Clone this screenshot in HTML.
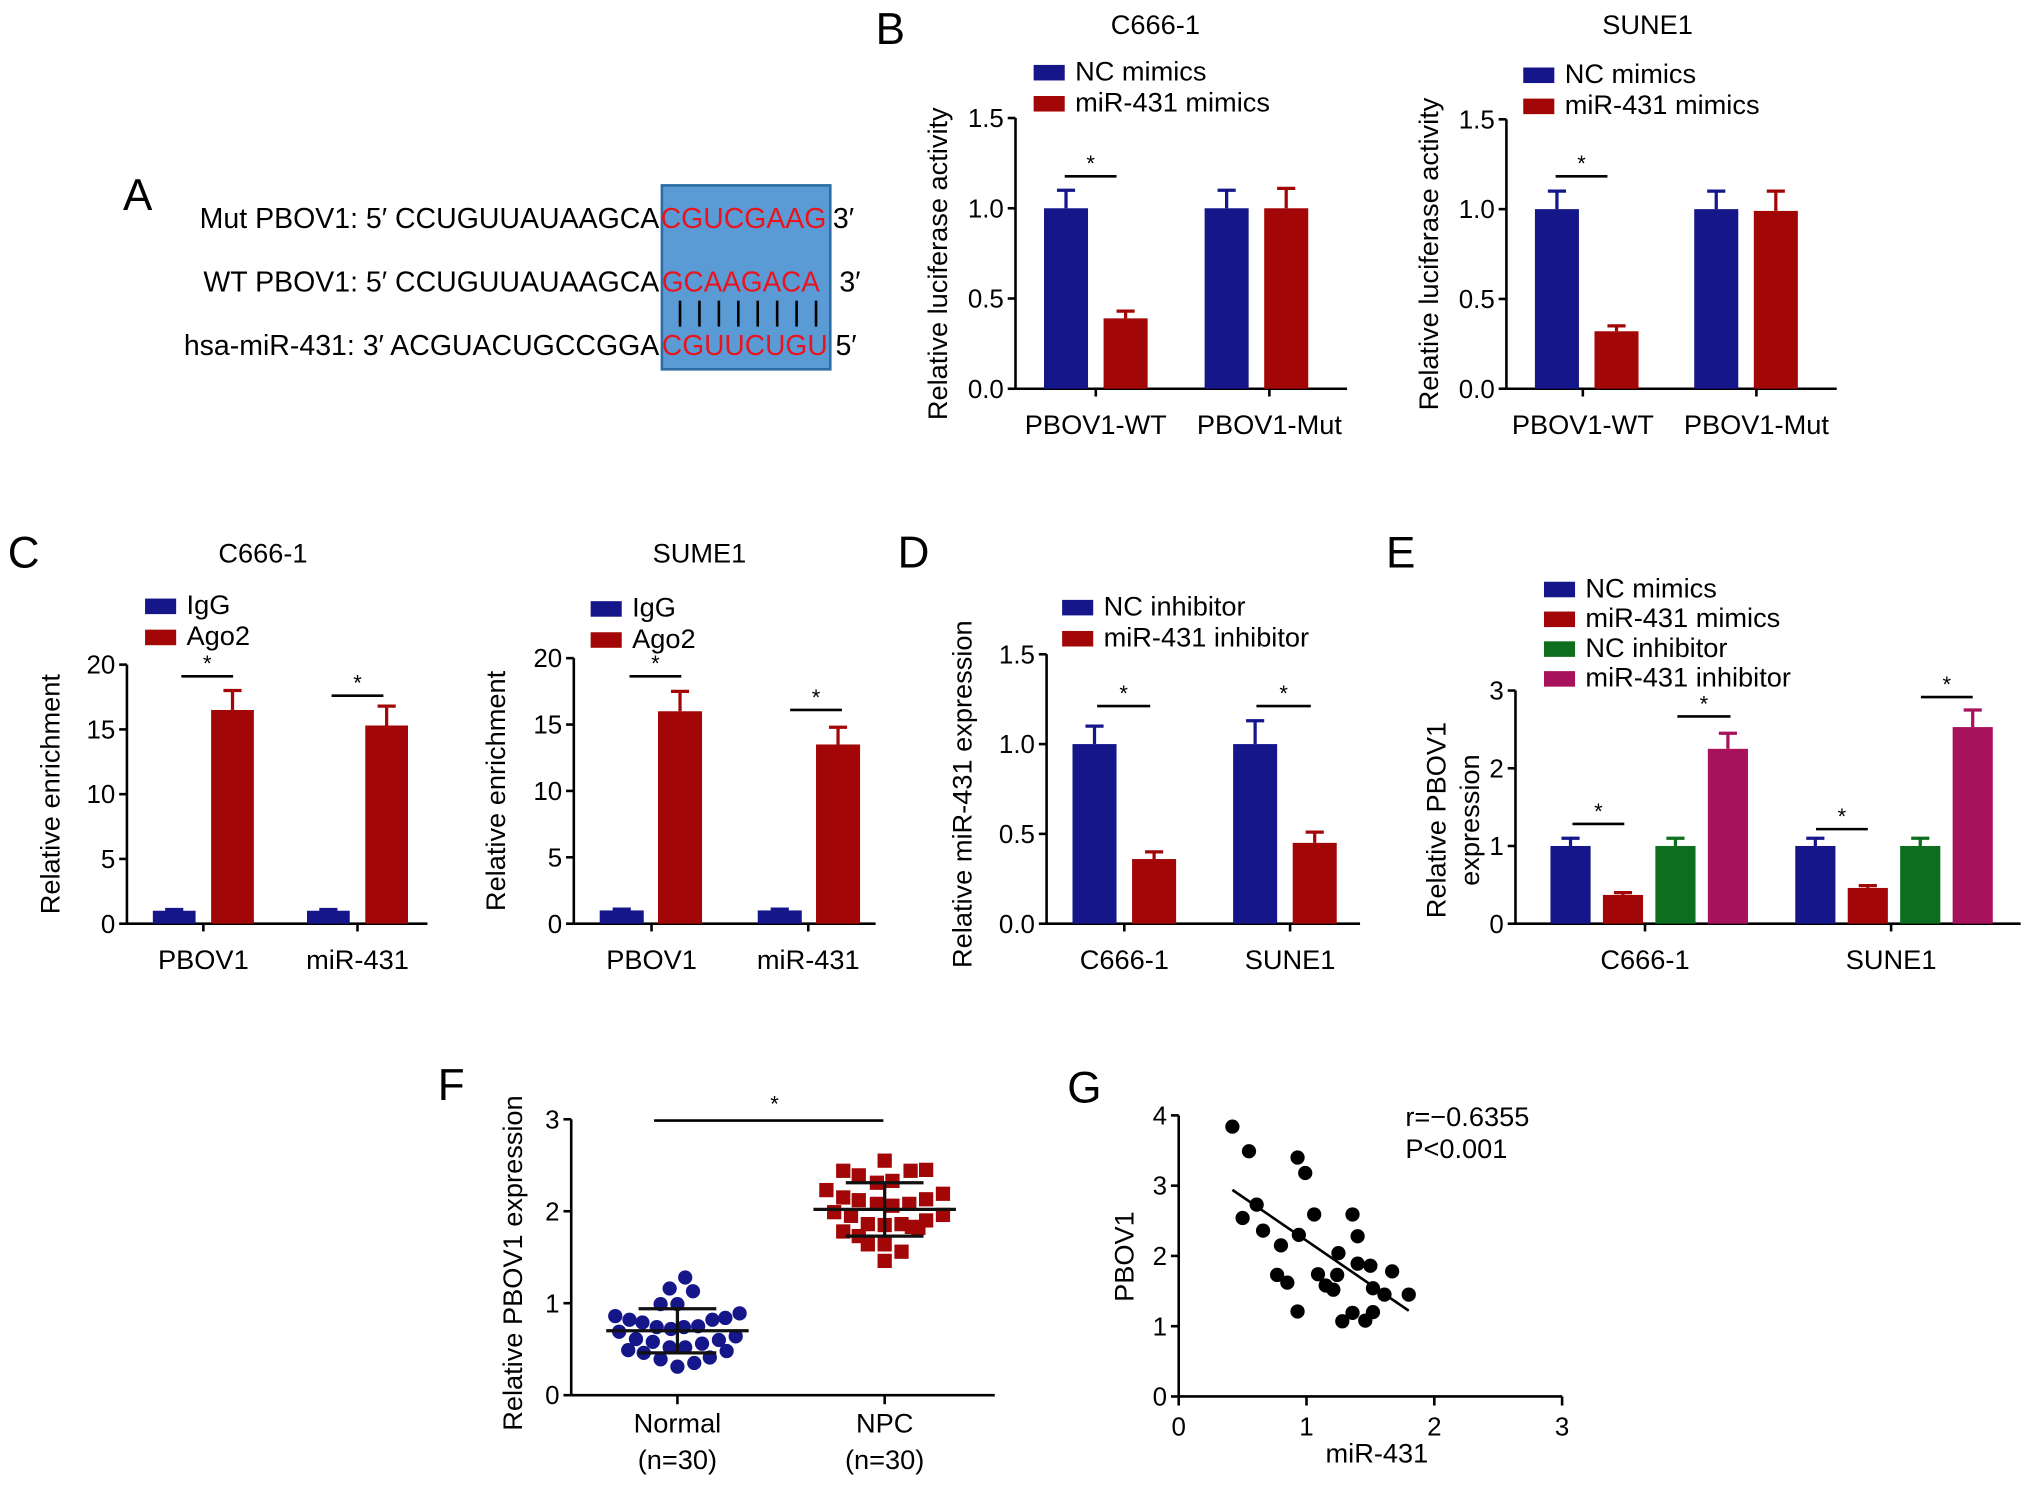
<!DOCTYPE html>
<html><head><meta charset="utf-8">
<style>
html,body{margin:0;padding:0;background:#fff;}
svg{display:block;font-family:"Liberation Sans",Arial,sans-serif;}
</style></head>
<body>
<svg id="fig" width="2031" height="1486" viewBox="0 0 1568 1147" xmlns="http://www.w3.org/2000/svg">
<rect width="1568" height="1147" fill="#fff"/>
<!-- Panel A -->
<g font-size="22">
<text x="95" y="162" font-size="34">A</text>
<rect x="511" y="143" width="130" height="142" fill="#5b9bd5" stroke="#2e6da4" stroke-width="2"/>
<text x="509" y="176" text-anchor="end">Mut PBOV1: 5′ CCUGUUAUAAGCA</text>
<text x="510" y="176" fill="#e8141e" textLength="128" lengthAdjust="spacingAndGlyphs">CGUCGAAG</text>
<text x="643" y="176">3′</text>
<text x="509" y="225" text-anchor="end">WT PBOV1: 5′ CCUGUUAUAAGCA</text>
<text x="511" y="225" fill="#e8141e" textLength="122" lengthAdjust="spacingAndGlyphs">GCAAGACA</text>
<text x="648" y="225">3′</text>
<text x="509" y="274" text-anchor="end">hsa-miR-431: 3′ ACGUACUGCCGGA</text>
<text x="511" y="274" fill="#e8141e" textLength="128" lengthAdjust="spacingAndGlyphs">CGUUCUGU</text>
<text x="645" y="274">5′</text>
<g id="pairs" stroke="#000" stroke-width="2"></g>
</g>
<g id="charts"></g>
</svg>
<script>
// ---------- Data ----------
const bCats = ["PBOV1-WT","PBOV1-Mut"];
const bLeftNC = [1.0, 1.0];
const bLeftNCErr = [0.1, 0.1];
const bLeftMiR = [0.39, 1.0];
const bLeftMiRErr = [0.04, 0.11];
const bRightNC = [1.0, 1.0];
const bRightNCErr = [0.1, 0.1];
const bRightMiR = [0.32, 0.99];
const bRightMiRErr = [0.03, 0.11];
const bTicks = ["0.0","0.5","1.0","1.5"];

const cCats = ["PBOV1","miR-431"];
const cLeftIgG = [1.0, 1.0];
const cLeftIgGErr = [0.1, 0.1];
const cLeftAgo = [16.5, 15.3];
const cLeftAgoErr = [1.5, 1.5];
const cRightIgG = [1.0, 1.0];
const cRightIgGErr = [0.1, 0.1];
const cRightAgo = [16.0, 13.5];
const cRightAgoErr = [1.5, 1.3];
const cTicks = ["0","5","10","15","20"];

const dCats = ["C666-1","SUNE1"];
const dNC = [1.0, 1.0];
const dNCErr = [0.1, 0.13];
const dInh = [0.36, 0.45];
const dInhErr = [0.04, 0.06];
const dTicks = ["0.0","0.5","1.0","1.5"];

const eCats = ["C666-1","SUNE1"];
const eNCm = [1.0, 1.0];
const eNCmErr = [0.1, 0.1];
const eMiRm = [0.37, 0.46];
const eMiRmErr = [0.03, 0.03];
const eNCi = [1.0, 1.0];
const eNCiErr = [0.1, 0.1];
const eMiRi = [2.25, 2.53];
const eMiRiErr = [0.2, 0.22];
const eTicks = ["0","1","2","3"];

const fNormal = [0.86,0.82,0.79,0.99,0.99,1.16,1.28,1.13,0.82,0.84,0.89,0.69,0.61,0.74,0.72,0.74,0.75,0.49,0.46,0.58,0.52,0.52,0.56,0.60,0.64,0.48,0.39,0.31,0.35,0.41];
const fNPC = [2.44,2.39,2.55,2.44,2.45,2.23,2.15,2.12,2.31,2.33,2.08,2.06,2.08,2.13,2.19,1.99,1.95,1.86,1.85,1.86,1.83,1.90,1.96,1.78,1.73,1.64,1.64,1.56,1.46,1.82];
const fNormalStats = [0.70, 0.94, 0.46];
const fNPCStats = [2.02, 2.31, 1.73];
const fTicks = ["0","1","2","3"];

const gX = [0.42,0.55,0.93,0.99,0.61,0.50,0.66,1.06,0.94,0.80,0.77,0.85,1.09,1.15,1.21,1.24,1.25,1.36,1.40,1.40,1.50,1.52,1.61,1.67,1.80,0.93,1.28,1.36,1.46,1.52];
const gY = [3.84,3.49,3.40,3.18,2.73,2.54,2.36,2.59,2.30,2.15,1.73,1.62,1.74,1.58,1.52,1.73,2.04,2.59,2.28,1.89,1.86,1.54,1.45,1.78,1.45,1.21,1.07,1.19,1.08,1.20];
const gFit = [[0.42,2.94],[1.80,1.22]];
const gXTicks = ["0","1","2","3"];
const gYTicks = ["0","1","2","3","4"];

// ---------- helpers ----------
const NS = "http://www.w3.org/2000/svg";
const root = document.getElementById("charts");
function el(tag, attrs, parent, text){
  const e = document.createElementNS(NS, tag);
  for (const k in attrs) e.setAttribute(k, attrs[k]);
  if (text !== undefined) e.textContent = text;
  (parent || root).appendChild(e);
  return e;
}
const BLUE="#15168a", RED="#a20606", GREEN="#0c6e1e", MAG="#a8125c";

(function(){
  const p = document.getElementById("pairs");
  for (let i=0;i<8;i++){
    const l = el("line",{x1:525+i*15,x2:525+i*15,y1:232,y2:252},p);
    
    
  }
})();

function yAxis(g, x, y0, y1, ticks, vmax){
  const ax = el("line",{x1:x,x2:x,y1:y0,y2:y1,stroke:"#000","stroke-width":2},g);
  
  
  ticks.forEach((t,i)=>{
    const v = parseFloat(t);
    const y = y0 - (y0-y1)*v/vmax;
    el("line",{x1:x-6,x2:x,y1:y,y2:y,stroke:"#000","stroke-width":2},g);
    const tx = el("text",{x:x-9,y:y+7,"text-anchor":"end","font-size":20},g,t);
    
    
  });
}

function barChart(o){
  const g = el("g",{});
  
  
  const sy = v => o.y0 - (o.y0-o.y1)*v/o.vmax;
  yAxis(g, o.ax, o.y0, o.y1, o.ticks, o.vmax);
  const xa = el("line",{x1:o.ax,x2:o.axEnd,y1:o.y0,y2:o.y0,stroke:"#000","stroke-width":2},g);
  
  
  o.series.forEach((s,si)=>{
    s.vals.forEach((v,ci)=>{
      const x = o.groupX[ci] + si*o.step;
      const top = sy(v), et = sy(v + s.err[ci]);
      el("line",{x1:x+o.bw/2,x2:x+o.bw/2,y1:top,y2:et,stroke:s.color,"stroke-width":2.5},g);
      el("line",{x1:x+o.bw/2-7,x2:x+o.bw/2+7,y1:et,y2:et,stroke:s.color,"stroke-width":2.5},g);
      const r = el("rect",{x:x,y:top,width:o.bw,height:o.y0-top,fill:s.color},g);
      
      
    });
  });
  o.cats.forEach((c,ci)=>{
    el("line",{x1:o.labelX[ci],x2:o.labelX[ci],y1:o.y0,y2:o.y0+6,stroke:"#000","stroke-width":2},g);
    const t = el("text",{x:o.labelX[ci],y:o.y0+35,"text-anchor":"middle","font-size":21},g,c);
    
    
  });
  o.series.forEach((s,si)=>{
    const ly = o.legY + si*o.legStep;
    el("rect",{x:o.legX,y:ly-12,width:24,height:12,fill:s.color},g);
    const t = el("text",{x:o.legX+32,y:ly,"font-size":21},g,s.label);
    
    
  });
  if (o.title){
    const t = el("text",{x:o.titleX,y:o.titleY,"text-anchor":"middle","font-size":21},g,o.title);
    
    
  }
  o.ylab.forEach((l,i)=>{
    const cx = o.ylabX + i*26, cy = (o.y0+o.y1)/2 + (o.ylabDy||0);
    const t = el("text",{x:cx,y:cy,"text-anchor":"middle","font-size":21,transform:`rotate(-90 ${cx} ${cy})`},g,l);
    
    
  });
  o.sig.forEach(s=>{
    el("line",{x1:s[0],x2:s[1],y1:s[2],y2:s[2],stroke:"#000","stroke-width":2},g);
    const t = el("text",{x:(s[0]+s[1])/2,y:s[2]-4,"text-anchor":"middle","font-size":17},g,"*");
    
    
  });
}

barChart({name:"chart-b-c666",ax:784,axEnd:1040,y0:300,y1:91,vmax:1.5,ticks:bTicks,cats:bCats,
  groupX:[806,930],step:46,bw:34,labelX:[846,980],
  series:[{key:"nc",vals:bLeftNC,err:bLeftNCErr,color:BLUE,label:"NC mimics"},
          {key:"mir",vals:bLeftMiR,err:bLeftMiRErr,color:RED,label:"miR-431 mimics"}],
  legX:798,legY:62,legStep:24,title:"C666-1",titleX:892,titleY:26,ylab:["Relative luciferase activity"],ylabX:731,ylabDy:8,
  sig:[[822,862,136]]});
barChart({name:"chart-b-sune1",ax:1163,axEnd:1418,y0:300,y1:92,vmax:1.5,ticks:bTicks,cats:bCats,
  groupX:[1185,1308],step:46,bw:34,labelX:[1222,1356],
  series:[{key:"nc",vals:bRightNC,err:bRightNCErr,color:BLUE,label:"NC mimics"},
          {key:"mir",vals:bRightMiR,err:bRightMiRErr,color:RED,label:"miR-431 mimics"}],
  legX:1176,legY:64,legStep:24,title:"SUNE1",titleX:1272,titleY:26,ylab:["Relative luciferase activity"],ylabX:1110,ylabDy:0,
  sig:[[1201,1241,136]]});
barChart({name:"chart-c-c666",ax:98,axEnd:330,y0:713,y1:513,vmax:20,ticks:cTicks,cats:cCats,
  groupX:[118,237],step:45,bw:33,labelX:[157,276],
  series:[{key:"igg",vals:cLeftIgG,err:cLeftIgGErr,color:BLUE,label:"IgG"},
          {key:"ago2",vals:cLeftAgo,err:cLeftAgoErr,color:RED,label:"Ago2"}],
  legX:112,legY:474,legStep:24,title:"C666-1",titleX:203,titleY:434,ylab:["Relative enrichment"],ylabX:46,ylabDy:0,
  sig:[[140,180,522],[256,296,537]]});
barChart({name:"chart-c-sume1",ax:443,axEnd:676,y0:713,y1:508,vmax:20,ticks:cTicks,cats:cCats,
  groupX:[463,585],step:45,bw:34,labelX:[503,624],
  series:[{key:"igg",vals:cRightIgG,err:cRightIgGErr,color:BLUE,label:"IgG"},
          {key:"ago2",vals:cRightAgo,err:cRightAgoErr,color:RED,label:"Ago2"}],
  legX:456,legY:476,legStep:24,title:"SUME1",titleX:540,titleY:434,ylab:["Relative enrichment"],ylabX:390,ylabDy:0,
  sig:[[486,526,522],[610,650,548]]});
barChart({name:"chart-d",ax:808,axEnd:1050,y0:713,y1:505,vmax:1.5,ticks:dTicks,cats:dCats,
  groupX:[828,952],step:46,bw:34,labelX:[868,996],
  series:[{key:"nc-inhibitor",vals:dNC,err:dNCErr,color:BLUE,label:"NC inhibitor"},
          {key:"mir-inhibitor",vals:dInh,err:dInhErr,color:RED,label:"miR-431 inhibitor"}],
  legX:820,legY:475,legStep:24,ylab:["Relative miR-431 expression"],ylabX:750,ylabDy:4,
  sig:[[847,888,545],[970,1012,545]]});
barChart({name:"chart-e",ax:1170,axEnd:1560,y0:713,y1:533,vmax:3,ticks:eTicks,cats:eCats,
  groupX:[1197,1386],step:40.5,bw:31,labelX:[1270,1460],
  series:[{key:"nc-mimics",vals:eNCm,err:eNCmErr,color:BLUE,label:"NC mimics"},
          {key:"mir-mimics",vals:eMiRm,err:eMiRmErr,color:RED,label:"miR-431 mimics"},
          {key:"nc-inhibitor",vals:eNCi,err:eNCiErr,color:GREEN,label:"NC inhibitor"},
          {key:"mir-inhibitor",vals:eMiRi,err:eMiRiErr,color:MAG,label:"miR-431 inhibitor"}],
  legX:1192,legY:461,legStep:23,ylab:["Relative PBOV1","expression"],ylabX:1116,ylabDy:10,
  sig:[[1214,1254,636],[1295,1336,553],[1402,1442,640],[1483,1523,538]]});

// F scatter-dot plot
(function(){
  const g = el("g",{});
  
  
  const y0=1077,y1=864,vmax=3, ax=441;
  const sy = v => y0-(y0-y1)*v/vmax;
  yAxis(g, ax, y0, y1, fTicks, vmax);
  el("line",{x1:ax,x2:768,y1:y0,y2:y0,stroke:"#000","stroke-width":2},g);
  const cx=[523,683];
  cx.forEach(x=>el("line",{x1:x,x2:x,y1:y0,y2:y0+7,stroke:"#000","stroke-width":2},g));
  const jit=[-48,-37,-27,-13,0,-6,6,12,27,37,48,-45,-32,-16,-5,5,16,-38,-26,-19,-6,6,19,32,45,38,-13,0,13,25];
  const jitN=[-32,-20,0,20,32,-45,-32,-20,-6,6,-6,6,19,32,45,-39,-26,-13,0,13,21,32,45,-32,-20,-13,0,13,0,26];
  fNormal.forEach((v,i)=>{
    const c = el("circle",{cx:cx[0]+jit[i],cy:sy(v),r:5.5,fill:BLUE},g);
    
    
  });
  fNPC.forEach((v,i)=>{
    const r = el("rect",{x:cx[1]+jitN[i]-5.5,y:sy(v)-5.5,width:11,height:11,fill:RED},g);
    
    
  });
  [[cx[0],fNormalStats],[cx[1],fNPCStats]].forEach(([x,s])=>{
    el("line",{x1:x-55,x2:x+55,y1:sy(s[0]),y2:sy(s[0]),stroke:"#111","stroke-width":2.5},g);
    el("line",{x1:x-30,x2:x+30,y1:sy(s[1]),y2:sy(s[1]),stroke:"#111","stroke-width":2.5},g);
    el("line",{x1:x-30,x2:x+30,y1:sy(s[2]),y2:sy(s[2]),stroke:"#111","stroke-width":2.5},g);
    el("line",{x1:x,x2:x,y1:sy(s[1]),y2:sy(s[2]),stroke:"#111","stroke-width":2.5},g);
  });
  [["Normal","(n=30)",cx[0]],["NPC","(n=30)",cx[1]]].forEach(([a,b,x])=>{
    const t1=el("text",{x:x,y:1106,"text-anchor":"middle","font-size":21},g,a);
    
    
    const t2=el("text",{x:x,y:1134,"text-anchor":"middle","font-size":21},g,b);
    
    
  });
  el("line",{x1:505,x2:682,y1:865,y2:865,stroke:"#000","stroke-width":2},g);
  el("text",{x:598,y:858,"text-anchor":"middle","font-size":17},g,"*");
  const yt = el("text",{x:403,y:975,"text-anchor":"middle","font-size":21,transform:"rotate(-90 403 975)"},g,"Relative PBOV1 expression");
  
  
})();

// G correlation scatter
(function(){
  const g = el("g",{});
  
  
  const x0=910,x1=1206,y0=1078,y1=861;
  const sx = v => x0+(x1-x0)*v/3, sy = v => y0-(y0-y1)*v/4;
  yAxis(g, x0, y0, y1, gYTicks, 4);
  el("line",{x1:x0,x2:x1,y1:y0,y2:y0,stroke:"#000","stroke-width":2},g);
  gXTicks.forEach(t=>{
    const x=sx(parseFloat(t));
    el("line",{x1:x,x2:x,y1:y0,y2:y0+7,stroke:"#000","stroke-width":2},g);
    const tx=el("text",{x:x,y:y0+30,"text-anchor":"middle","font-size":20},g,t);
    
    
  });
  gX.forEach((v,i)=>{
    const c=el("circle",{cx:sx(v),cy:sy(gY[i]),r:5.5,fill:"#000"},g);
    
    
  });
  const fl=el("line",{x1:sx(gFit[0][0]),y1:sy(gFit[0][1]),x2:sx(gFit[1][0]),y2:sy(gFit[1][1]),stroke:"#000","stroke-width":2},g);
  
  
  el("text",{x:1085,y:869,"font-size":21},g,"r=−0.6355");
  el("text",{x:1085,y:894,"font-size":21},g,"P<0.001");
  const xt=el("text",{x:1063,y:1129,"text-anchor":"middle","font-size":21},g,"miR-431");
  
  
  const yt=el("text",{x:875,y:970,"text-anchor":"middle","font-size":21,transform:"rotate(-90 875 970)"},g,"PBOV1");
  
  
})();

[["B",676,34],["C",6,438],["D",693,438],["E",1070,438],["F",338,849],["G",824,851]].forEach(([l,x,y])=>{
  const t=el("text",{x:x,y:y,"font-size":34},root,l);
  
  
});
</script>
</body></html>
